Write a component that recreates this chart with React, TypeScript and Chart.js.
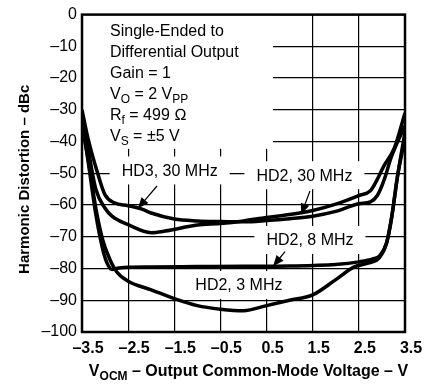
import { useEffect, useRef } from 'react';
import { Chart, registerables } from 'chart.js';

Chart.register(...registerables);

const FONT = '"Liberation Sans", Arial, Helvetica, sans-serif';

// X: output common-mode voltage (V); Y: harmonic distortion (dBc)
const hd3_30MHz_V = [-3.5, -3.37, -3.15, -3.0, -2.8, -2.5, -2.2, -2.0, -1.5, -1.0, -0.5, 0.0, 0.5, 1.0, 1.5, 2.0, 2.5, 2.75, 2.9, 3.05, 3.2, 3.5];
const hd3_30MHz_dBc = [-30, -39, -50.5, -56.8, -59.3, -60.2, -61.3, -62.5, -64.4, -65, -65.2, -65.3, -64.9, -64.3, -63.5, -62, -59.6, -59, -57, -52, -45, -35];

const hd2_30MHz_V = [-3.5, -3.37, -3.2, -3.0, -2.85, -2.5, -2.0, -1.7, -1.0, -0.5, 0.0, 0.5, 1.0, 1.5, 2.0, 2.5, 2.75, 2.86, 3.05, 3.27, 3.5];
const hd2_30MHz_dBc = [-31, -42, -55, -61, -63.5, -66.2, -68.7, -68.2, -66.3, -65.8, -65, -63.9, -63, -61.7, -59.7, -57, -55.5, -53, -47.5, -42, -31];

const hd2_8MHz_V = [-3.5, -3.35, -3.2, -3.05, -2.95, -2.85, -2.7, -2.0, -1.0, 0.0, 1.0, 2.0, 2.5, 2.8, 2.95, 3.1, 3.2, 3.32, 3.5];
const hd2_8MHz_dBc = [-33, -48, -63, -74, -78.5, -80.3, -79.8, -79.5, -79.4, -79.3, -79.2, -78.7, -77.9, -77, -76, -72, -65, -52.5, -37];

const hd2_3MHz_V = [-3.5, -3.35, -3.2, -3.05, -2.9, -2.75, -2.5, -2.0, -1.5, -1.0, -0.5, 0.0, 0.5, 1.0, 1.5, 2.0, 2.4, 2.7, 2.95, 3.1, 3.22, 3.35, 3.5];
const hd2_3MHz_dBc = [-35, -47, -61, -71, -77, -81, -84, -86.7, -89.5, -91.7, -92.8, -93.3, -91.7, -90, -88.3, -83.5, -79.5, -78.3, -76.5, -72, -63, -50, -39];

const seriesNames = ['HD3, 30 MHz', 'HD2, 30 MHz', 'HD2, 8 MHz', 'HD2, 3 MHz'];

// Annotation labels: text and anchor in data units
const labelTexts = ['HD3, 30 MHz', 'HD2, 30 MHz', 'HD2, 8 MHz', 'HD2, 3 MHz'];
const labelX = [-1.6, 1.32, 1.44, -0.1];
const labelY = [-49.1, -50.6, -71.0, -85.2];

// Arrows: from (x1,y1) to tip (x2,y2), data units
const arrowX1 = [-1.875, 1.44, 0.9];
const arrowY1 = [-54.0, -55.6, -74.7];
const arrowX2 = [-2.29, 1.25, 0.64];
const arrowY2 = [-61.1, -63.0, -79.3];

// Conditions box (rich text: segments with optional subscript)
type Seg = { t: string; sub?: boolean };
const conditionLines: Seg[][] = [
  [{ t: 'Single-Ended to' }],
  [{ t: 'Differential Output' }],
  [{ t: 'Gain = 1' }],
  [{ t: 'V' }, { t: 'O', sub: true }, { t: ' = 2 V' }, { t: 'PP', sub: true }],
  [{ t: 'R' }, { t: 'f', sub: true }, { t: ' = 499 \u2126' }],
  [{ t: 'V' }, { t: 'S', sub: true }, { t: ' = \u00b15 V' }],
];

const xTitle: Seg[] = [{ t: 'V' }, { t: 'OCM', sub: true }, { t: ' \u2013 Output Common-Mode Voltage \u2013 V' }];
const yTitle: Seg[] = [{ t: 'Harmonic Distortion \u2013 dBc' }];

function drawRich(ctx: CanvasRenderingContext2D, parts: Seg[], x: number, y: number, size: number, bold: boolean, align: 'left' | 'center') {
  const subSize = Math.round(size * 0.72);
  const fm = `${bold ? 'bold ' : ''}${size}px ${FONT}`;
  const fs = `${bold ? 'bold ' : ''}${subSize}px ${FONT}`;
  let total = 0;
  const widths = parts.map((p) => {
    ctx.font = p.sub ? fs : fm;
    const w = ctx.measureText(p.t).width;
    total += w;
    return w;
  });
  let cx = align === 'center' ? x - total / 2 : x;
  ctx.textAlign = 'left';
  ctx.textBaseline = 'middle';
  parts.forEach((p, i) => {
    ctx.font = p.sub ? fs : fm;
    ctx.fillText(p.t, cx, p.sub ? y + size * 0.3 : y);
    cx += widths[i];
  });
  return total;
}

const annotPlugin = {
  id: 'annot',
  beforeDatasetsDraw(chart: any) {
    const { ctx, chartArea, scales } = chart;
    const xs = scales.x, ys = scales.y;
    ctx.save();
    ctx.fillStyle = '#fff';
    // conditions box
    const bx2 = xs.getPixelForValue(0.64);
    const by2 = ys.getPixelForValue(-42.3);
    ctx.fillRect(chartArea.left, chartArea.top, bx2 - chartArea.left, by2 - chartArea.top);
    ctx.fillStyle = '#000';
    conditionLines.forEach((line, i) => {
      drawRich(ctx, line, chartArea.left + 28, chartArea.top + 17 + i * 21, 16, false, 'left');
    });
    // curve labels
    labelTexts.forEach((t, i) => {
      const px = xs.getPixelForValue(labelX[i]);
      const py = ys.getPixelForValue(labelY[i]);
      ctx.font = `16px ${FONT}`;
      const w = ctx.measureText(t).width;
      ctx.fillStyle = '#fff';
      ctx.fillRect(px - w / 2 - 12, py - 14, w + 24, 28);
      ctx.fillStyle = '#000';
      drawRich(ctx, [{ t }], px, py + 1, 16, false, 'center');
    });
    ctx.restore();
  },
  afterDraw(chart: any) {
    const { ctx, chartArea, scales } = chart;
    const xs = scales.x, ys = scales.y;
    ctx.save();
    // frame
    ctx.strokeStyle = '#000';
    ctx.lineWidth = 2.5;
    ctx.strokeRect(chartArea.left, chartArea.top, chartArea.right - chartArea.left, chartArea.bottom - chartArea.top);
    // arrows
    ctx.fillStyle = '#000';
    arrowX1.forEach((_, i) => {
      const x1 = xs.getPixelForValue(arrowX1[i]);
      const y1 = ys.getPixelForValue(arrowY1[i]);
      const x2 = xs.getPixelForValue(arrowX2[i]);
      const y2 = ys.getPixelForValue(arrowY2[i]);
      const a = Math.atan2(y2 - y1, x2 - x1);
      const L = 11, W = 4.5;
      ctx.lineWidth = 1.2;
      ctx.beginPath();
      ctx.moveTo(x1, y1);
      ctx.lineTo(x2 - Math.cos(a) * L * 0.8, y2 - Math.sin(a) * L * 0.8);
      ctx.stroke();
      ctx.beginPath();
      ctx.moveTo(x2, y2);
      ctx.lineTo(x2 - Math.cos(a) * L - Math.sin(a) * W, y2 - Math.sin(a) * L + Math.cos(a) * W);
      ctx.lineTo(x2 - Math.cos(a) * L + Math.sin(a) * W, y2 - Math.sin(a) * L - Math.cos(a) * W);
      ctx.closePath();
      ctx.fill();
    });
    // titles
    drawRich(ctx, xTitle, (chartArea.left + chartArea.right) / 2 + 5, 372, 16, true, 'center');
    ctx.translate(25, (chartArea.top + chartArea.bottom) / 2 + 6);
    ctx.rotate(-Math.PI / 2);
    drawRich(ctx, yTitle, 0, 0, 15, true, 'center');
    ctx.restore();
  },
};

function toPoints(xs: number[], ys: number[]) {
  return xs.map((x, i) => ({ x, y: ys[i] }));
}

export default function App() {
  const ref = useRef<HTMLCanvasElement>(null);
  useEffect(() => {
    if (!ref.current) return;
    const series = [
      toPoints(hd3_30MHz_V, hd3_30MHz_dBc),
      toPoints(hd2_30MHz_V, hd2_30MHz_dBc),
      toPoints(hd2_8MHz_V, hd2_8MHz_dBc),
      toPoints(hd2_3MHz_V, hd2_3MHz_dBc),
    ];
    const chart = new Chart(ref.current, {
      type: 'line',
      data: {
        datasets: series.map((d, i) => ({
          label: seriesNames[i],
          data: d,
          borderColor: '#000',
          borderWidth: 3.5,
          pointRadius: 0,
          fill: false,
          cubicInterpolationMode: 'monotone' as const,
        })),
      },
      options: {
        animation: false,
        responsive: false,
        devicePixelRatio: 1,
        layout: { padding: { top: 8, right: 30, left: 0, bottom: 0 } },
        plugins: { legend: { display: false }, tooltip: { enabled: false } },
        scales: {
          x: {
            type: 'linear',
            min: -3.5,
            max: 3.5,
            afterFit: (s: any) => { s.height = 53; },
            afterBuildTicks: (s: any) => {
              const t = [];
              for (let v = -3.5; v <= 3.51; v += 1) t.push({ value: Math.round(v * 10) / 10 });
              s.ticks = t;
            },
            grid: { color: '#000', lineWidth: 1.2, drawTicks: false },
            border: { display: false },
            ticks: {
              padding: 7,
              labelOffset: 6,
              color: '#000',
              font: { family: FONT, size: 16, weight: 'bold' },
              maxRotation: 0,
              autoSkip: false,
              callback: (v: any) => (v < 0 ? '\u2013' + Math.abs(v).toFixed(1) : Number(v).toFixed(1)),
            },
          },
          y: {
            min: -100,
            max: 0,
            afterFit: (s: any) => { s.width = 82; },
            grid: { color: '#000', lineWidth: 1.2, drawTicks: false },
            border: { display: false },
            ticks: {
              stepSize: 10,
              padding: 5,
              color: '#000',
              font: { family: FONT, size: 16 },
              callback: (v: any) => (v < 0 ? '\u2013' + Math.abs(v) : String(v)),
            },
          },
        },
      },
      plugins: [annotPlugin],
    });
    return () => chart.destroy();
  }, []);
  return (
    <div style={{ position: 'absolute', left: 0, top: 0, width: 435, height: 385, background: '#fff' }}>
      <canvas ref={ref} width={435} height={385} />
    </div>
  );
}
